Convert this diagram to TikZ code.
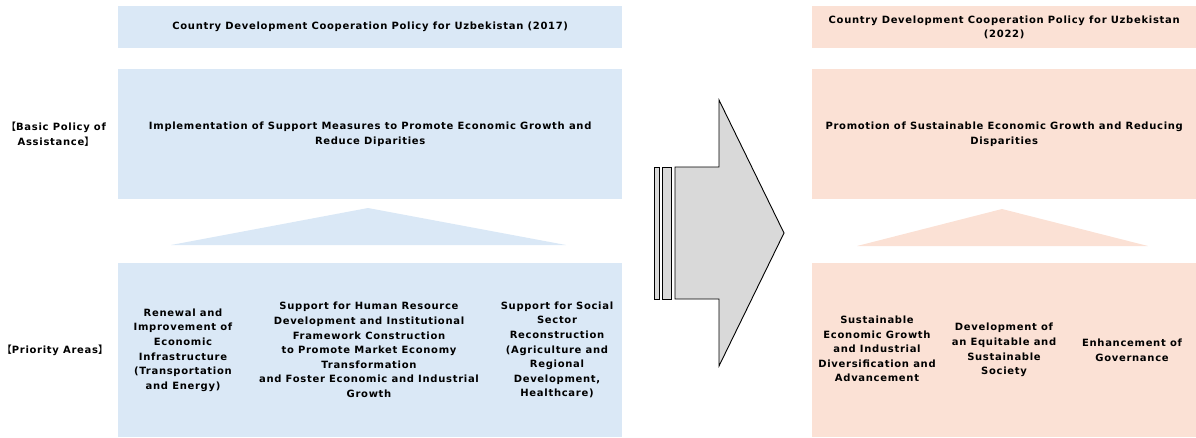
\documentclass[tikz,border=0pt]{standalone}
\usepackage{fontspec}
\setmainfont{DejaVu Sans}[LetterSpace=7]
\newfontfamily\cjk{Noto Sans CJK JP}[BoldFont={* Bold}]
\definecolor{paleblue}{RGB}{218,232,246}
\definecolor{palepeach}{RGB}{251,225,213}
\definecolor{arrowgray}{RGB}{217,217,217}
\newcommand{\lbr}{{\cjk 【}}
\newcommand{\rbr}{{\cjk 】}}
\begin{document}
\begin{tikzpicture}[x=1pt,y=-1pt,
  txt/.style={font=\bfseries\fontsize{10}{14.6}\selectfont, align=center, inner sep=0pt},
  box/.style={draw=none, inner sep=0pt, anchor=north west},
  oldbox/.style={box, fill=paleblue},
  newbox/.style={box, fill=palepeach},
  shaft/.style={draw=black, line width=0.9pt, fill=arrowgray, line join=miter}]
\useasboundingbox (0,0) rectangle (1196,437);

% side labels
\node[txt] (lblbasic) at (56,134) {\lbr Basic Policy of\\Assistance\rbr};
\node[txt] (lblprio) at (55,350) {\lbr Priority Areas\rbr};

% 2017 column
\node[oldbox, minimum width=504, minimum height=42] (h17) at (118,6) {};
\node[txt] at (h17.center) {Country Development Cooperation Policy for Uzbekistan (2017)};
\node[oldbox, minimum width=504, minimum height=130] (b17) at (118,69) {};
\node[txt] at (b17.center) {Implementation of Support Measures to Promote Economic Growth and\\Reduce Diparities};
\fill[paleblue] (171,245) -- (368,208) -- (566,245) -- cycle;
\node[oldbox, minimum width=504, minimum height=174] (p17) at (118,263) {};
\node[txt] (p17a) at (183,350) {Renewal and\\Improvement of\\Economic\\Infrastructure\\(Transportation\\and Energy)};
\node[txt] (p17b) at (369,350) {Support for Human Resource\\Development and Institutional\\Framework Construction\\to Promote Market Economy\\Transformation\\and Foster Economic and Industrial\\Growth};
\node[txt] (p17c) at (557,350) {Support for Social\\Sector\\Reconstruction\\(Agriculture and\\Regional\\Development,\\Healthcare)};

% 2022 column
\node[newbox, minimum width=384, minimum height=42] (h22) at (812,6) {};
\node[txt] at (h22.center) {Country Development Cooperation Policy for Uzbekistan\\(2022)};
\node[newbox, minimum width=384, minimum height=130] (b22) at (812,69) {};
\node[txt] at (b22.center) {Promotion of Sustainable Economic Growth and Reducing\\Disparities};
\fill[palepeach] (857,246) -- (1002,209) -- (1148,246) -- cycle;
\node[newbox, minimum width=384, minimum height=174] (p22) at (812,263) {};
\node[txt] (p22a) at (877,349) {Sustainable\\Economic Growth\\and Industrial\\Diversification and\\Advancement};
\node[txt] (p22b) at (1004,350) {Development of\\an Equitable and\\Sustainable\\Society};
\node[txt] (p22c) at (1132,350) {Enhancement of\\Governance};

% transition arrow with two trailing bars
\draw[shaft] (654,167) rectangle (659,299);
\draw[shaft] (662,167) rectangle (671,299);
\draw[shaft] (675,167) -- (719,167) -- (719,100) -- (784,233) -- (719,366) -- (719,299) -- (675,299) -- cycle;
\end{tikzpicture}
\end{document}
